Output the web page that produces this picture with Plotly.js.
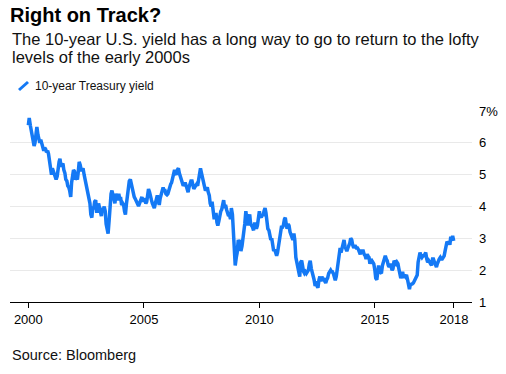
<!DOCTYPE html>
<html><head><meta charset="utf-8">
<script src="https://cdn.plot.ly/plotly-3.0.1.min.js"></script>
<style>html,body{margin:0;padding:0;background:#fff}#chart{width:506px;height:374px}</style>
</head><body><div id="chart"></div>
<script>
// Semi-monthly readings (1st and 15th of each month), 10-year Treasury yield, %
const startYear = 2000;
const y2000 = [6.55,6.78, 6.55,6.40, 6.35,6.15, 5.90,6.00, 6.30,6.50, 6.25,6.05, 6.00,6.10, 5.95,5.80, 5.75,5.85, 5.80,5.70, 5.75,5.65, 5.40,5.20];
const y2001 = [5.00,5.20, 5.10,5.05, 4.90,4.85, 4.95,5.25, 5.40,5.50, 5.25,5.30, 5.35,5.15, 5.05,4.85, 4.80,4.65, 4.60,4.50, 4.30,4.75, 4.95,5.15];
const y2002 = [5.10,4.85, 4.90,4.85, 5.10,5.40, 5.30,5.15, 5.15,5.20, 5.00,4.85, 4.80,4.60, 4.35,4.20, 4.10,3.75, 3.65,3.95, 3.95,4.15, 4.20,3.85];
const y2003 = [3.85,4.10, 3.95,3.85, 3.70,3.95, 3.90,4.00, 3.85,3.45, 3.30,3.15, 3.55,4.00, 4.40,4.50, 4.30,4.15, 4.10,4.40, 4.30,4.20, 4.40,4.25];
const y2004 = [4.25,4.05, 4.10,4.05, 3.85,3.75, 4.10,4.40, 4.70,4.80, 4.85,4.70, 4.50,4.45, 4.30,4.25, 4.15,4.10, 4.05,4.05, 4.15,4.20, 4.30,4.15];
const y2005 = [4.25,4.20, 4.10,4.15, 4.40,4.55, 4.45,4.25, 4.20,4.10, 4.00,3.95, 4.10,4.20, 4.35,4.20, 4.05,4.25, 4.35,4.50, 4.60,4.50, 4.50,4.40];
const y2006 = [4.37,4.40, 4.55,4.55, 4.70,4.75, 4.90,5.05, 5.15,5.05, 5.00,5.15, 5.20,5.05, 4.95,4.80, 4.75,4.65, 4.70,4.75, 4.65,4.50, 4.45,4.60];
const y2007 = [4.70,4.80, 4.80,4.60, 4.55,4.60, 4.65,4.70, 4.65,4.80, 5.10,5.20, 5.05,4.95, 4.75,4.65, 4.50,4.55, 4.60,4.45, 4.35,4.10, 4.00,4.15];
const y2008 = [3.85,3.65, 3.65,3.80, 3.50,3.40, 3.55,3.80, 3.85,3.90, 4.10,4.20, 3.95,4.05, 3.90,3.80, 3.70,3.75, 3.60,3.95, 3.75,3.25, 2.70,2.15];
const y2009 = [2.40,2.55, 2.95,2.85, 2.95,2.60, 2.75,2.95, 3.20,3.45, 3.85,3.70, 3.40,3.65, 3.75,3.45, 3.40,3.35, 3.25,3.45, 3.45,3.30, 3.40,3.60];
const y2010 = [3.85,3.70, 3.65,3.75, 3.70,3.85, 3.95,3.80, 3.50,3.30, 3.25,3.10, 2.95,3.00, 2.85,2.60, 2.65,2.55, 2.45,2.55, 2.75,2.90, 3.20,3.35];
const y2011 = [3.35,3.40, 3.60,3.65, 3.45,3.30, 3.45,3.40, 3.20,3.10, 3.00,2.95, 3.15,2.95, 2.40,2.20, 2.00,1.95, 1.80,2.25, 2.30,2.00, 1.95,1.90];
const y2012 = [1.95,1.90, 1.95,2.00, 2.20,2.30, 2.05,1.95, 1.80,1.70, 1.50,1.65, 1.50,1.45, 1.70,1.80, 1.65,1.80, 1.70,1.75, 1.65,1.60, 1.70,1.75];
const y2013 = [1.90,1.95, 2.00,1.95, 1.95,1.90, 1.75,1.68, 1.80,2.05, 2.15,2.45, 2.70,2.55, 2.70,2.85, 2.95,2.75, 2.65,2.60, 2.70,2.75, 2.85,3.00];
const y2014 = [2.95,2.80, 2.70,2.75, 2.75,2.70, 2.70,2.65, 2.55,2.50, 2.60,2.60, 2.60,2.50, 2.45,2.35, 2.50,2.45, 2.40,2.20, 2.35,2.30, 2.20,2.20];
const y2015 = [2.00,1.75, 1.70,2.10, 2.15,1.95, 1.90,1.90, 2.15,2.25, 2.35,2.45, 2.35,2.30, 2.15,2.10, 2.20,2.10, 2.00,2.05, 2.30,2.25, 2.20,2.25];
const y2016 = [2.20,2.05, 1.85,1.75, 1.85,1.95, 1.75,1.85, 1.80,1.85, 1.70,1.55, 1.40,1.55, 1.55,1.57, 1.60,1.65, 1.75,1.80, 1.85,2.25, 2.40,2.55];
const y2017 = [2.45,2.40, 2.45,2.45, 2.50,2.55, 2.35,2.25, 2.30,2.25, 2.20,2.15, 2.35,2.35, 2.25,2.20, 2.10,2.20, 2.35,2.35, 2.40,2.35, 2.35,2.40];
const y2018 = [2.45,2.60, 2.80,2.90, 2.85,2.90, 2.80,3.05, 2.95,3.08, 2.92];

const yearlyValues = [y2000,y2001,y2002,y2003,y2004,y2005,y2006,y2007,y2008,y2009,
                      y2010,y2011,y2012,y2013,y2014,y2015,y2016,y2017,y2018];

const xTickDates  = ['2000-01-01','2005-01-01','2010-01-01','2015-01-01','2018-06-05'];
const xTickLabels = ['2000','2005','2010','2015','2018'];
const yTickVals   = [1,2,3,4,5,6,7];
const yTickLabels = ['1','2','3','4','5','6','7%'];
const seriesName  = '10-year Treasury yield';

const dates = [], values = [];
yearlyValues.forEach((arr, i) => {
  const yr = startYear + i;
  arr.forEach((v, j) => {
    const m = Math.floor(j / 2) + 1;
    const d = (j % 2 === 0) ? '01' : '15';
    dates.push(yr + '-' + String(m).padStart(2, '0') + '-' + d);
    values.push(v);
  });
});

const BLUE = '#1479f5';
const FONT = 'Liberation Sans, Arial, Helvetica, sans-serif';
const W = 506, H = 374, ML = 10, MR = 34, MT = 111, MB = 72;
const PH = H - MT - MB, PW = W - ML - MR;
const py = p => (H - MB - p) / PH;   // pixel row -> paper y
const px = p => (p - ML) / PW;       // pixel col -> paper x

const trace = {
  x: dates, y: values, type: 'scatter', mode: 'lines', name: seriesName,
  line: {color: BLUE, width: 3.5}, showlegend: false, hoverinfo: 'skip'
};

const layout = {
  width: W, height: H,
  margin: {l: ML, r: MR, t: MT, b: MB, pad: 0},
  paper_bgcolor: '#fff', plot_bgcolor: '#fff',
  font: {family: FONT, color: '#000', size: 13},
  title: {
    text: '<b>Right on Track?</b>',
    font: {family: FONT, size: 20, color: '#000'},
    xref: 'container', yref: 'container',
    x: 10 / W, xanchor: 'left', y: 1 - 15 / H, yanchor: 'middle'
  },
  xaxis: {
    type: 'date', range: ['1999-03-17', '2019-03-17'],
    tickmode: 'array', tickvals: xTickDates, ticktext: xTickLabels,
    ticks: 'outside', ticklen: 5, tickcolor: '#000', tickwidth: 1,
    showline: true, linecolor: '#000', linewidth: 1,
    showgrid: false, zeroline: false,
    tickfont: {family: FONT, size: 13, color: '#000'}, fixedrange: true
  },
  yaxis: {
    side: 'right', range: [1, 7],
    tickmode: 'array', tickvals: yTickVals, ticktext: yTickLabels,
    ticks: '', showline: false, zeroline: false,
    showgrid: true, gridcolor: '#e9e9e9', gridwidth: 1,
    ticklabelstandoff: 6,
    tickfont: {family: FONT, size: 13, color: '#000'}, fixedrange: true
  },
  shapes: [{
    type: 'line', xref: 'paper', yref: 'paper',
    x0: px(19), y0: py(90), x1: px(28), y1: py(82),
    line: {color: BLUE, width: 3}
  }],
  annotations: [
    {text: 'The 10-year U.S. yield has a long way to go to return to the lofty', xref: 'paper', yref: 'paper',
     x: 0, y: py(39.5), xanchor: 'left', yanchor: 'middle', showarrow: false,
     font: {family: FONT, size: 16.5, color: '#111'}},
    {text: 'levels of the early 2000s', xref: 'paper', yref: 'paper',
     x: 0, y: py(57.5), xanchor: 'left', yanchor: 'middle', showarrow: false,
     font: {family: FONT, size: 16.5, color: '#111'}},
    {text: seriesName, xref: 'paper', yref: 'paper',
     x: px(33), y: py(86), xanchor: 'left', yanchor: 'middle', showarrow: false,
     font: {family: FONT, size: 12, color: '#111'}},
    {text: 'Source: Bloomberg', xref: 'paper', yref: 'paper',
     x: 0, y: py(355), xanchor: 'left', yanchor: 'middle', showarrow: false,
     font: {family: FONT, size: 14.5, color: '#111'}}
  ]
};

Plotly.newPlot('chart', [trace], layout, {displayModeBar: false, staticPlot: true});
</script>
</body></html>
